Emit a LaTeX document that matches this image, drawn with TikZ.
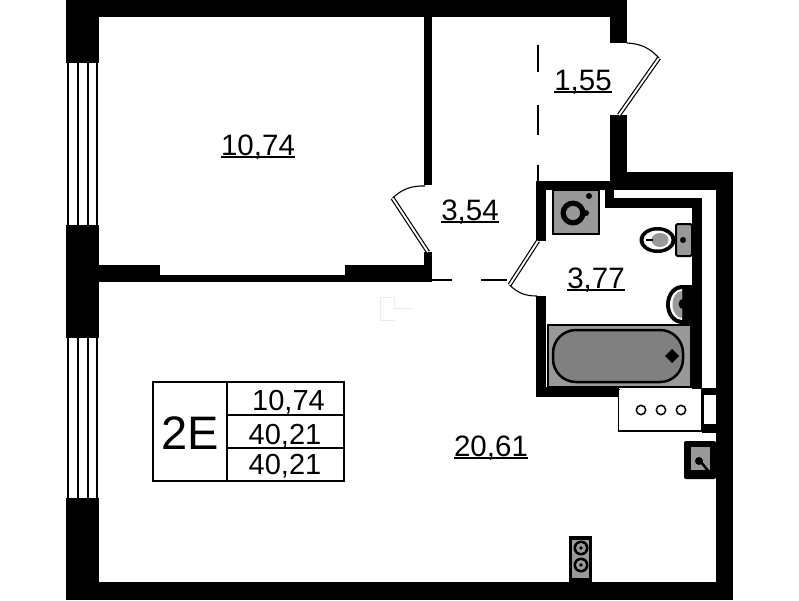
\documentclass[tikz,border=0pt]{standalone}
\usepackage{fontspec}
\setmainfont{Liberation Sans}
\usepackage{xcolor}
\usetikzlibrary{shapes, positioning, calc}
\definecolor{fixturegray}{gray}{0.60}
\definecolor{bathgray}{gray}{0.50}
\newcommand{\areatext}[1]{\sbox0{#1}\rlap{\rule[-2.8pt]{\wd0}{1.6pt}}\box0}
\tikzset{
  wall/.style={fill=black, draw=none},
  leaf/.style={draw=black, line width=1.2pt, double=white, double distance=1.9pt},
  swing/.style={draw=black, line width=1.1pt},
  thinline/.style={draw=black, line width=1.5pt},
  fixture/.style={draw=black, line width=2pt, fill=fixturegray},
  area/.style={anchor=base, inner sep=0pt, font=\fontsize{29.5}{30}\selectfont},
  cell/.style={anchor=base, inner sep=0pt, font=\fontsize{29}{30}\selectfont},
}
\begin{document}
\begin{tikzpicture}[x=1pt, y=-1pt]
  \useasboundingbox (0,0) rectangle (799,600);

  % door points
  \coordinate (A) at (428,252);
  \coordinate (B) at (392.5,198);
  \coordinate (C) at (425,186);
  \coordinate (D) at (538,241);
  \coordinate (E) at (509.5,285);
  \coordinate (F) at (537,296);
  \coordinate (G) at (619,115);
  \coordinate (H) at (659,58);
  \coordinate (J) at (627,43);

  % outer walls
  \fill[wall] (66,0) rectangle (627,17);
  \fill[wall] (66,0) rectangle (99,63);
  \fill[wall] (66,225) rectangle (99,338);
  \fill[wall] (66,498) rectangle (99,600);
  \fill[wall] (66,582) rectangle (733,600);
  \fill[wall] (610,0) rectangle (627,43);
  \fill[wall] (610,115) rectangle (627,190);
  \fill[wall] (610,172) rectangle (733,190);
  \fill[wall] (716,172) rectangle (733,600);

  % windows
  \foreach \wx in {67,76.5,86.5,95.5} {
    \fill[wall] (\wx,63) rectangle (\wx+2,225);
    \fill[wall] (\wx,338) rectangle (\wx+2,498);
  }

  % inner walls
  \fill[wall] (99,265) rectangle (160,282);
  \fill[wall] (160,275) rectangle (345,282);
  \fill[wall] (345,265) rectangle (432,282);
  \fill[wall] (424,252) rectangle (432,282);
  \fill[wall] (424,17) rectangle (432,185);

  % bathroom walls
  \fill[wall] (536,181) rectangle (610,190);
  \fill[wall] (536,181) rectangle (546,241);
  \fill[wall] (536,296) rectangle (546,397);
  \fill[wall] (536,387) rectangle (619,397);
  \fill[wall] (605,181) rectangle (614,208);
  \fill[wall] (605,198) rectangle (702,208);
  \fill[wall] (692,198) rectangle (702,396);
  \fill[wall] (692,388) rectangle (716,395);
  \fill[wall] (702,388) rectangle (704,433);
  \fill[wall] (702,424) rectangle (716,433);

  % doors
  \draw[leaf] (A) -- (B);
  \draw[swing] (B) to[bend left=22] (C);
  \draw[leaf] (D) -- (E);
  \draw[swing] (E) to[bend right=22] (F);
  \draw[leaf] (G) -- (H);
  \draw[swing] (H) to[bend right=22] (J);

  % openings
  \draw[thinline] (432,280) -- (452,280);
  \draw[thinline] (481,280) -- (507,280);
  \draw[thinline] (538,45) -- (538,72);
  \draw[thinline] (538,105) -- (538,135);
  \draw[thinline] (538,165) -- (538,181);

  % ghost mark
  \draw[black!8, line width=0.7pt] (380,297) -- (380,320) -- (395,320);
  \draw[black!8, line width=0.7pt] (380,297) -- (394,297) -- (394,308) -- (412,308);

  % washing machine
  \draw[fixture] (553,190) rectangle (598.5,233.5);
  \fill[black] (573,213) circle (12.5);
  \fill[black] (586,213) circle (3);
  \fill[black] (589,196) circle (3);
  \fill[fixturegray] (573,213) circle (7);

  % toilet
  \draw[fixture, rounded corners=2pt] (676,224) rectangle (692,256);
  \fill[black] (683,240) circle (3);
  \fill[black] (657.5,240) ellipse (18 and 13);
  \fill[white] (657.5,240) ellipse (14 and 9.5);
  \fill[fixturegray] (660,240) ellipse (8.5 and 7);
  \draw[black, line width=1.2pt] (646,240) -- (653,240);

  % basin
  \fill[black] (692,285) -- (682,285) arc (-90:-270:16 and 19.5) -- (692,324) -- cycle;
  \fill[white] (682,289) arc (-90:-270:12 and 15.5) -- cycle;
  \fill[fixturegray] (682,291) arc (-90:-270:9.5 and 13.5) -- cycle;
  \fill[black] (684,304) circle (5.5);

  % bath
  \draw[fixture] (548,325) rectangle (691,387);
  \draw[draw=black, line width=2.5pt, fill=bathgray, rounded corners=23pt] (553,330) rectangle (683,382);
  \fill[black] (672,349) -- (679,356) -- (672,363) -- (665,356) -- cycle;

  % hob
  \draw[draw=black, line width=1.2pt, fill=white] (619,389) -- (619,431) -- (702,431) -- (702,389);
  \fill[white] (619,390) rectangle (701,430);
  \fill[white] (704,395) rectangle (715,424);
  \foreach \cx in {641,661,681}
    \draw[black, line width=1.5pt] (\cx,410) circle (4.7);

  % riser
  \fill[black, rounded corners=2pt] (684,441) rectangle (716,479);
  \fill[fixturegray] (691,447) rectangle (710,470);
  \fill[black] (699,461) circle (4);
  \draw[black, line width=2.5pt] (700,461) -- (710,473);

  % vent
  \fill[black] (569,536) rectangle (592,582);
  \fill[fixturegray] (572,540) rectangle (589,578);
  \foreach \vy in {548,565} {
    \fill[black] (581,\vy) circle (7.5);
    \fill[fixturegray] (581,\vy) circle (5);
    \fill[black] (581,\vy) circle (1.8);
  }

  % table
  \draw[black, line width=1.2pt] (153,382) rectangle (344,481);
  \draw[black, line width=1.2pt] (227,382) -- (227,481);
  \draw[black, line width=1.2pt] (227,415) -- (344,415);
  \draw[black, line width=1.2pt] (227,448) -- (344,448);
  \node[anchor=base, inner sep=0pt, font=\fontsize{47}{47}\selectfont] (type) at (190,449) {2E};
  \node[cell] (living) at (288.5,410) {10,74};
  \node[cell] (total) at (285,444) {40,21};
  \node[cell] (gross) at (285,474) {40,21};

  % areas
  \node[area] (bedroom) at (258,155) {\areatext{10,74}};
  \node[area] (hall) at (470,220) {\areatext{3,54}};
  \node[area] (lobby) at (583,90) {\areatext{1,55}};
  \node[area] (bathroom) at (596,288) {\areatext{3,77}};
  \node[area] (kitchen) at (491,456) {\areatext{20,61}};
\end{tikzpicture}
\end{document}
